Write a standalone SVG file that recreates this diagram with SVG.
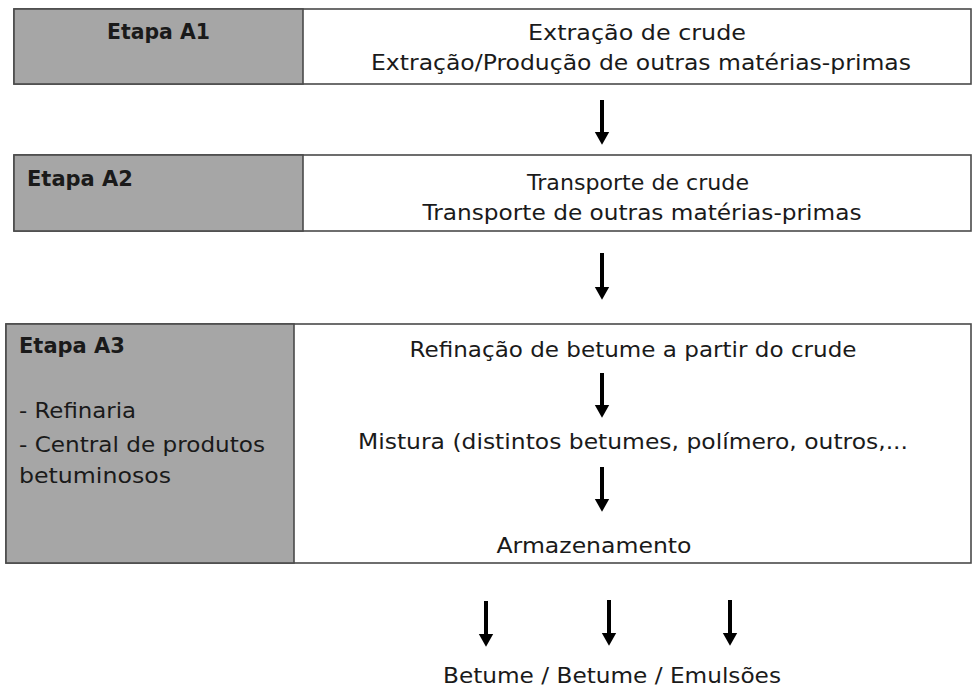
<svg xmlns="http://www.w3.org/2000/svg" width="972" height="691" viewBox="0 0 972 691">
<style>
.box{fill:#ffffff;stroke:#4a4a4a;stroke-width:1.6}
.lab{fill:#a6a6a6;stroke:#4a4a4a;stroke-width:1.6}
text{font-family:"DejaVu Sans","Liberation Sans",sans-serif;font-size:21.5px;fill:#1a1a1a}
.b{font-weight:bold}
.c{text-anchor:middle}
.arr{stroke:#000;stroke-width:4;fill:none}
</style>
<defs>
<marker id="ah" markerWidth="4" markerHeight="4" refX="0.5" refY="2" orient="auto" markerUnits="strokeWidth" viewBox="0 0 4 4">
<path d="M0,0.2 L3.2,2 L0,3.8 Z" fill="#000"/>
</marker>
</defs>
<rect width="972" height="691" fill="#fff"/>
<g id="A1">
<rect class="box" x="14" y="9" width="957" height="75"/>
<rect class="lab" x="14" y="9" width="289" height="75"/>
<text class="b" x="107" y="39" textLength="103" lengthAdjust="spacingAndGlyphs">Etapa A1</text>
<text class="c" x="637" y="40" textLength="218" lengthAdjust="spacingAndGlyphs">Extração de crude</text>
<text class="c" x="641" y="70" textLength="540" lengthAdjust="spacingAndGlyphs">Extração/Produção de outras matérias-primas</text>
</g>
<g id="A2">
<rect class="box" x="14" y="155" width="957" height="76"/>
<rect class="lab" x="14" y="155" width="289" height="76"/>
<text class="b" x="27" y="186" textLength="106" lengthAdjust="spacingAndGlyphs">Etapa A2</text>
<text class="c" x="638" y="190" textLength="222" lengthAdjust="spacingAndGlyphs">Transporte de crude</text>
<text class="c" x="642" y="220" textLength="439" lengthAdjust="spacingAndGlyphs">Transporte de outras matérias-primas</text>
</g>
<g id="A3">
<rect class="box" x="6" y="324" width="965" height="239"/>
<rect class="lab" x="6" y="324" width="288" height="239"/>
<text class="b" x="19" y="353" textLength="106" lengthAdjust="spacingAndGlyphs">Etapa A3</text>
<text x="19" y="418" textLength="117" lengthAdjust="spacingAndGlyphs">- Refinaria</text>
<text x="19" y="452" textLength="246" lengthAdjust="spacingAndGlyphs">- Central de produtos</text>
<text x="19" y="483" textLength="152" lengthAdjust="spacingAndGlyphs">betuminosos</text>
<text class="c" x="633" y="357" textLength="447" lengthAdjust="spacingAndGlyphs">Refinação de betume a partir do crude</text>
<text class="c" x="633" y="449" textLength="550" lengthAdjust="spacingAndGlyphs">Mistura (distintos betumes, polímero, outros,...</text>
<text class="c" x="594" y="553" textLength="195" lengthAdjust="spacingAndGlyphs">Armazenamento</text>
</g>
<g id="output">
<text class="c" x="612" y="683" textLength="338" lengthAdjust="spacingAndGlyphs">Betume / Betume / Emulsões</text>
</g>
<g id="connectors">
<line class="arr" x1="602" y1="100" x2="602" y2="134" marker-end="url(#ah)"/>
<line class="arr" x1="602" y1="253" x2="602" y2="289" marker-end="url(#ah)"/>
<line class="arr" x1="602" y1="373" x2="602" y2="407" marker-end="url(#ah)"/>
<line class="arr" x1="602" y1="467" x2="602" y2="501" marker-end="url(#ah)"/>
<line class="arr" x1="486" y1="601" x2="486" y2="636" marker-end="url(#ah)"/>
<line class="arr" x1="609" y1="600" x2="609" y2="635" marker-end="url(#ah)"/>
<line class="arr" x1="730" y1="600" x2="730" y2="635" marker-end="url(#ah)"/>
</g>
</svg>
